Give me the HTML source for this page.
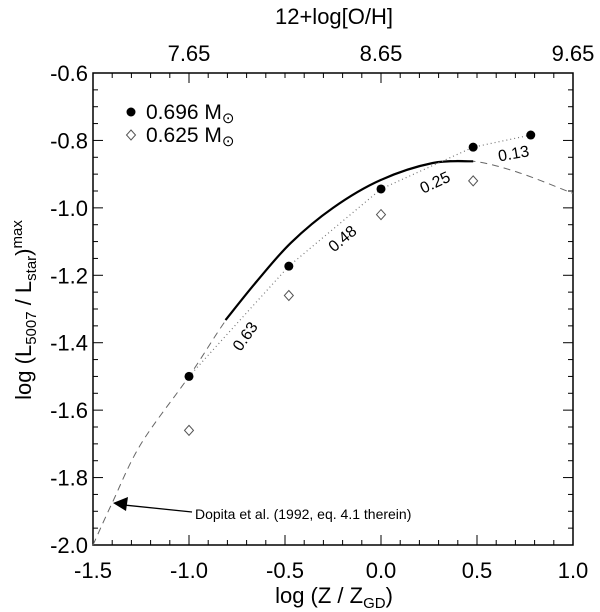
<!DOCTYPE html>
<html><head><meta charset="utf-8"><style>
body{margin:0;background:#fff;}
svg{display:block;font-family:"Liberation Sans",Arial,sans-serif;}
</style></head><body>
<svg id="c" width="600" height="612" viewBox="0 0 600 612"></svg>
<script>
const filledX=[-1.0,-0.48,0.0,0.48,0.78];
const filledY=[-1.50,-1.173,-0.944,-0.82,-0.784];
const openX=[-1.0,-0.48,0.0,0.48];
const openY=[-1.66,-1.26,-1.02,-0.92];
const dopX=[-1.5,-1.4,-1.25,-1.0,-0.81,-0.65,-0.47,-0.25,0,0.27,0.48,0.71,1.0];
const dopY=[-2.0,-1.875,-1.70,-1.50,-1.335,-1.22,-1.104,-1.0,-0.917,-0.867,-0.862,-0.894,-0.957];
const solidX=[-0.81,-0.65,-0.47,-0.25,0,0.27,0.48];
const solidY=[-1.333,-1.22,-1.104,-1.0,-0.917,-0.867,-0.862];
const bandLabels=["0.63","0.48","0.25","0.13"];
const bandX=[-0.71,-0.203,0.28,0.69];
const bandY=[-1.38,-1.09,-0.923,-0.837];
const bandRot=[-55,-40,-25,-10];
const xTicks=[-1.5,-1.0,-0.5,0.0,0.5,1.0];
const yTicks=[-0.6,-0.8,-1.0,-1.2,-1.4,-1.6,-1.8,-2.0];
const topTicks=[7.65,8.65,9.65];

const L=93,R=573,T=73,B=545;
const X=v=>L+(v+1.5)/2.5*(R-L);
const Y=v=>T+(-0.6-v)/1.4*(B-T);
const XT=o=>X(o-8.65);
const svg=document.getElementById('c');
const NS='http://www.w3.org/2000/svg';
function mk(t,a,p){const e=document.createElementNS(NS,t);for(const k in a)e.setAttribute(k,a[k]);(p||svg).appendChild(e);return e;}

let fr=mk('rect',{x:L,y:T,width:R-L,height:B-T,fill:'none',stroke:'#000','stroke-width':1.5});



for(let i=0;i<=25;i++){const v=-1.5+i*0.1;const x=X(v);const len=(i%5==0)?10:5;
 mk('line',{x1:x,y1:B,x2:x,y2:B-len,stroke:'#000','stroke-width':1});}
for(let i=-5;i<=25;i++){const x=XT(7.65+i*0.1);if(x<L-0.5||x>R+0.5)continue;
 const len=(((i%10)+10)%10==0)?10:5;
 mk('line',{x1:x,y1:T,x2:x,y2:T+len,stroke:'#000','stroke-width':1});}
for(let i=0;i<=28;i++){const v=-0.6-i*0.05;const y=Y(v);const len=(i%4==0)?10:5;
 mk('line',{x1:L,y1:y,x2:L+len,y2:y,stroke:'#000','stroke-width':1});
 mk('line',{x1:R,y1:y,x2:R-len,y2:y,stroke:'#000','stroke-width':1});}

xTicks.forEach(v=>{const t=mk('text',{x:X(v),y:B+33,'font-size':22,'text-anchor':'middle'});t.textContent=v.toFixed(1);
 
 });
yTicks.forEach(v=>{const t=mk('text',{x:L-5,y:Y(v)+8,'font-size':22,'text-anchor':'end'});t.textContent=v.toFixed(1);
 
 });
topTicks.forEach(v=>{const t=mk('text',{x:XT(v),y:T-12,'font-size':22,'text-anchor':'middle'});t.textContent=v.toFixed(2);
 
 });

let tt=mk('text',{x:334,y:24,'font-size':22,'text-anchor':'middle'});tt.textContent='12+log[O/H]';


let xt=mk('text',{x:334,y:603,'font-size':22,'text-anchor':'middle'});
xt.innerHTML='log (Z / Z<tspan font-size="15" dy="5">GD</tspan><tspan dy="-5">)</tspan>';


let yt=mk('text',{x:0,y:0,'font-size':22,'text-anchor':'middle',transform:'translate(31,310) rotate(-90)'});
yt.innerHTML='log (L<tspan font-size="15" dy="5">5007</tspan><tspan dy="-5"> / L</tspan><tspan font-size="15" dy="5">star</tspan><tspan dy="-5">)</tspan><tspan font-size="15" dy="-9">max</tspan>';



function smooth(xs,ys){const p=xs.map((v,i)=>[X(v),Y(ys[i])]);let d='M'+p[0][0].toFixed(1)+','+p[0][1].toFixed(1);
 for(let i=0;i<p.length-1;i++){const p0=p[i-1]||p[i],p1=p[i],p2=p[i+1],p3=p[i+2]||p2;
  const c1=[p1[0]+(p2[0]-p0[0])/6,p1[1]+(p2[1]-p0[1])/6],c2=[p2[0]-(p3[0]-p1[0])/6,p2[1]-(p3[1]-p1[1])/6];
  d+=`C${c1[0].toFixed(1)},${c1[1].toFixed(1)} ${c2[0].toFixed(1)},${c2[1].toFixed(1)} ${p2[0].toFixed(1)},${p2[1].toFixed(1)}`;}
 return d;}
const path=(xs,ys)=>xs.map((v,i)=>(i?'L':'M')+X(v).toFixed(1)+','+Y(ys[i]).toFixed(1)).join('');
let dp=mk('path',{d:smooth(dopX,dopY),fill:'none',stroke:'#666','stroke-width':1,'stroke-dasharray':'7,5'});


let sp=mk('path',{d:smooth(solidX,solidY),fill:'none',stroke:'#000','stroke-width':2.2});


let dt=mk('path',{d:path(filledX,filledY),fill:'none',stroke:'#777','stroke-width':1.2,'stroke-dasharray':'1,3'});



filledX.forEach((v,i)=>{const c=mk('circle',{cx:X(v),cy:Y(filledY[i]),r:4.5,fill:'#000'});
 
 });
openX.forEach((v,i)=>{const x=X(v),y=Y(openY[i]);const d=mk('path',{d:`M${x},${y-5}L${x+4.5},${y}L${x},${y+5}L${x-4.5},${y}Z`,fill:'#fff',stroke:'#555','stroke-width':1});
 
 });

bandLabels.forEach((s,i)=>{const x=X(bandX[i]),y=Y(bandY[i]);const t=mk('text',{x:x,y:y+6,'font-size':16,'text-anchor':'middle',transform:`rotate(${bandRot[i]} ${x} ${y})`});t.textContent=s;
 
 });

let g=mk('g',{});
mk('circle',{cx:131,cy:112,r:4.5,fill:'#000'},g);
let l1=mk('text',{x:146,y:119,'font-size':21},g);l1.innerHTML='0.696 M<tspan font-size="15" dy="4">⊙</tspan>';
mk('path',{d:'M131,130L135.5,135L131,140L126.5,135Z',fill:'#fff',stroke:'#555','stroke-width':1},g);
let l2=mk('text',{x:146,y:142,'font-size':21},g);l2.innerHTML='0.625 M<tspan font-size="15" dy="4">⊙</tspan>';

mk('line',{x1:192,y1:512,x2:124,y2:505,stroke:'#000','stroke-width':1.3});
mk('path',{d:'M113,503L128,497L126,511Z',fill:'#000'});
let an=mk('text',{x:195,y:519,'font-size':14});an.textContent='Dopita et al. (1992, eq. 4.1 therein)';


</script>
</body></html>
